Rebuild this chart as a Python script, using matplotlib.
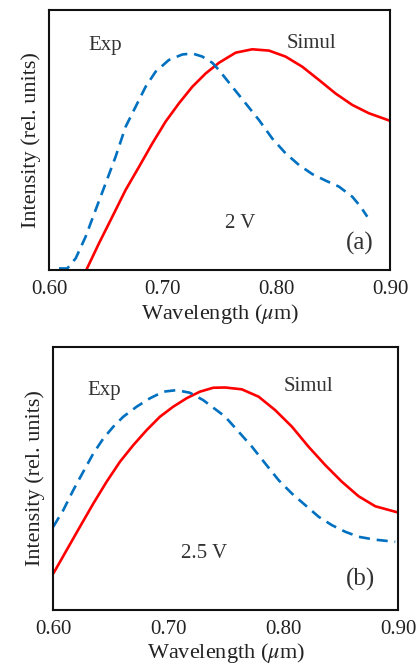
import matplotlib
matplotlib.use("Agg")
import matplotlib.pyplot as plt

plt.rcParams['font.family'] = ['Liberation Serif', 'DejaVu Serif']
plt.rcParams['mathtext.fontset'] = 'stix'

# panel (a) 2 V
wl_sim_a = [0.6328, 0.644, 0.6557, 0.6674, 0.6792, 0.6909, 0.7026, 0.7143, 0.7261,
            0.7378, 0.7495, 0.7642, 0.7788, 0.7935, 0.8081, 0.8228, 0.8375, 0.8521,
            0.8668, 0.8814, 0.90]
int_sim_a = [0.0, 0.103, 0.205, 0.308, 0.397, 0.487, 0.571, 0.641, 0.705,
             0.756, 0.797, 0.836, 0.849, 0.844, 0.821, 0.782, 0.731, 0.679,
             0.635, 0.603, 0.574]
wl_exp_a = [0.6088, 0.6161, 0.6235, 0.6322, 0.641, 0.6498, 0.6586, 0.6674, 0.6762,
            0.685, 0.6938, 0.7055, 0.7173, 0.7261, 0.7349, 0.7437, 0.7495, 0.7612,
            0.773, 0.7847, 0.7964, 0.8081, 0.8199, 0.8316, 0.8433, 0.855, 0.8668,
            0.8741, 0.88]
int_exp_a = [0.006, 0.006, 0.045, 0.128, 0.231, 0.333, 0.436, 0.551, 0.628,
             0.705, 0.763, 0.808, 0.829, 0.833, 0.821, 0.797, 0.769, 0.705,
             0.641, 0.577, 0.506, 0.449, 0.404, 0.369, 0.344, 0.321, 0.282,
             0.244, 0.205]

# panel (b) 2.5 V
wl_sim_b = [0.60, 0.6116, 0.6232, 0.6348, 0.6464, 0.658, 0.6696, 0.6812, 0.6928,
            0.7043, 0.7159, 0.7275, 0.7391, 0.7495, 0.764, 0.7786, 0.793, 0.8076,
            0.822, 0.8366, 0.851, 0.8655, 0.88, 0.90]
int_sim_b = [0.138, 0.227, 0.316, 0.404, 0.487, 0.563, 0.626, 0.683, 0.734,
             0.772, 0.804, 0.829, 0.844, 0.845, 0.838, 0.81, 0.759, 0.696,
             0.62, 0.55, 0.487, 0.432, 0.394, 0.37]
wl_exp_b = [0.60, 0.6087, 0.6174, 0.6261, 0.6348, 0.6435, 0.6522, 0.6609, 0.6725,
            0.6841, 0.6957, 0.7072, 0.7188, 0.7304, 0.742, 0.7495, 0.7612, 0.7728,
            0.7844, 0.796, 0.8076, 0.8192, 0.8308, 0.8424, 0.854, 0.8655, 0.88,
            0.8974]
int_exp_b = [0.316, 0.379, 0.455, 0.525, 0.594, 0.651, 0.696, 0.734, 0.772,
             0.804, 0.829, 0.835, 0.825, 0.797, 0.759, 0.734, 0.677, 0.62,
             0.556, 0.493, 0.442, 0.398, 0.354, 0.322, 0.297, 0.278, 0.267,
             0.259]

ticks = [0.60, 0.70, 0.80, 0.90]
tick_labels = ['0.60', '0.70', '0.80', '0.90']

fig = plt.figure(figsize=(4.16, 6.69), dpi=100)
ax1 = fig.add_axes([0.1178, 0.5964, 0.8197, 0.3886])
ax2 = fig.add_axes([0.128, 0.0882, 0.8293, 0.3936])

panels = [
    (ax1, wl_sim_a, int_sim_a, wl_exp_a, int_exp_a,
     [(0.649, 0.865, 'Exp'), (0.831, 0.873, 'Simul'), (0.768, 0.177, '2 V'),
      (0.8735, 0.104, '(a)')]),
    (ax2, wl_sim_b, int_sim_b, wl_exp_b, int_exp_b,
     [(0.644, 0.835, 'Exp'), (0.822, 0.848, 'Simul'), (0.731, 0.213, '2.5 V'),
      (0.8675, 0.116, '(b)')]),
]

for ax, xs, ys, xe, ye, notes in panels:
    ax.plot(xs, ys, color='#ff0000', lw=1.9, solid_capstyle='butt')
    ax.plot(xe, ye, color='#0070c0', lw=1.9, dashes=(4.2, 2.6))
    ax.set_xlim(0.60, 0.90)
    ax.set_ylim(0, 1)
    ax.set_xticks(ticks)
    ax.set_xticklabels(tick_labels)
    ax.set_yticks([])
    ax.tick_params(axis='x', length=0, pad=7, labelsize=15, colors='#222222')
    for s in ax.spines.values():
        s.set_linewidth(1.5)
        s.set_color('#111111')
    ax.set_xlabel(r'Wavelength ($\mu$m)', fontsize=16, color='#222222', labelpad=2)
    ax.set_ylabel('Intensity (rel. units)', fontsize=16, color='#222222', labelpad=6)
    for x, y, t in notes:
        fs = 18 if t.startswith('(') else 15
        ax.text(x, y, t, fontsize=fs, ha='center', va='center', color='#333333')

fig.savefig('out.png', dpi=100)
